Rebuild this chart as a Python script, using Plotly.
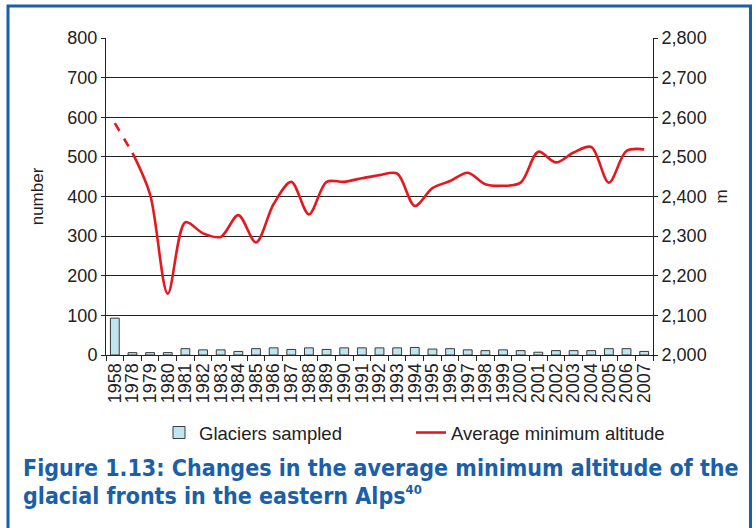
import plotly.graph_objects as go

years = ["1958", "1978", "1979", "1980", "1981", "1982", "1983", "1984", "1985", "1986",
         "1987", "1988", "1989", "1990", "1991", "1992", "1993", "1994", "1995", "1996",
         "1997", "1998", "1999", "2000", "2001", "2002", "2003", "2004", "2005", "2006", "2007"]
glaciers = [93, 6, 6, 6, 16, 13, 13, 9, 16, 18, 14, 18, 14, 18, 18, 18,
            18, 19, 15, 16, 13, 11, 13, 11, 7, 11, 11, 11, 16, 16, 9]
altitude = [2585, 2510, 2405, 2155, 2335, 2307, 2298, 2353, 2284, 2381,
            2437, 2355, 2437, 2437, 2446, 2454, 2458, 2376, 2421, 2439,
            2460, 2431, 2427, 2435, 2513, 2486, 2511, 2525, 2435, 2515, 2519]

W, H = 756, 528
L, R, T, B = 106, 653, 38, 355
pw, ph = R - L, B - T

def px(x):
    return (x - L) / pw

def py(y):
    return (B - y) / ph

FONT = "Liberation Sans, Arial, sans-serif"
TITLE_FONT = "Liberation Sans Narrow, DejaVu Sans Condensed, Arial Narrow, sans-serif"
BLUE = "#1b5fa9"

fig = go.Figure()
fig.add_trace(go.Bar(
    x=years, y=glaciers, name="Glaciers sampled",
    marker=dict(color="#bfe5f0", line=dict(color="#3a3a3a", width=1)),
    yaxis="y", legend="legend",
))
fig.add_trace(go.Scatter(
    x=years[:2], y=altitude[:2], mode="lines", yaxis="y2",
    line=dict(color="#e3191f", width=2.6, dash="dash"), showlegend=False,
))
fig.add_trace(go.Scatter(
    x=years[1:], y=altitude[1:], mode="lines", yaxis="y2", name="Average minimum altitude",
    line=dict(color="#e3191f", width=2.6, shape="spline", smoothing=0.9),
    legend="legend2",
))

tickfont = dict(family=FONT, size=18, color="#222")
legfont = dict(family=FONT, size=18.5, color="#222")

fig.update_layout(
    width=W, height=H,
    margin=dict(l=L, r=W - R, t=T, b=H - B, pad=0),
    paper_bgcolor="white", plot_bgcolor="white",
    bargap=0.5,
    showlegend=True,
    legend=dict(orientation="h", x=px(159), y=py(414), xanchor="left", yanchor="top",
                font=legfont, bgcolor="rgba(0,0,0,0)"),
    legend2=dict(orientation="h", x=px(411), y=py(414), xanchor="left", yanchor="top",
                 font=legfont, bgcolor="rgba(0,0,0,0)"),
    xaxis=dict(type="category", tickmode="array", tickvals=years, ticktext=years,
               tickangle=-90, tickfont=tickfont,
               ticks="outside", ticklen=5, tickcolor="#222", tickson="boundaries",
               showline=True, linecolor="#222", linewidth=1, showgrid=False,
               range=[-0.5, len(years) - 0.5]),
    yaxis=dict(range=[0, 800], dtick=100, tickfont=tickfont,
               ticks="outside", ticklen=4, tickcolor="#222",
               showline=True, linecolor="#222", linewidth=1,
               showgrid=True, gridcolor="#222", gridwidth=1, zeroline=False,
               title=dict(text="number", font=dict(family=FONT, size=17, color="#222"), standoff=19)),
    yaxis2=dict(range=[2000, 2800], dtick=100, tickformat=",", tickfont=tickfont,
                overlaying="y", side="right",
                ticks="outside", ticklen=4, tickcolor="#222",
                showline=True, linecolor="#222", linewidth=1,
                showgrid=False, zeroline=False,
                title=dict(text="m", font=dict(family=FONT, size=17, color="#222"), standoff=9)),
    shapes=[dict(type="rect", xref="paper", yref="paper",
                 x0=px(8), x1=px(750.5), y0=py(540), y1=py(6),
                 line=dict(color=BLUE, width=3), fillcolor="rgba(0,0,0,0)", layer="above")],
    annotations=[
        dict(text="Figure 1.13: Changes in the average minimum altitude of the",
             xref="paper", yref="paper", x=px(21), y=py(468), xanchor="left", yanchor="middle",
             align="left", showarrow=False,
             font=dict(family=TITLE_FONT, size=23, color=BLUE, weight="bold")),
        dict(text="glacial fronts in the eastern Alps<sup><span style='font-size:13px'>40</span></sup>",
             xref="paper", yref="paper", x=px(21), y=py(496), xanchor="left", yanchor="middle",
             align="left", showarrow=False,
             font=dict(family=TITLE_FONT, size=23, color=BLUE, weight="bold")),
    ],
)

fig.write_html("out.html", config={"displayModeBar": False},
               post_script="document.body.style.margin='0';")
